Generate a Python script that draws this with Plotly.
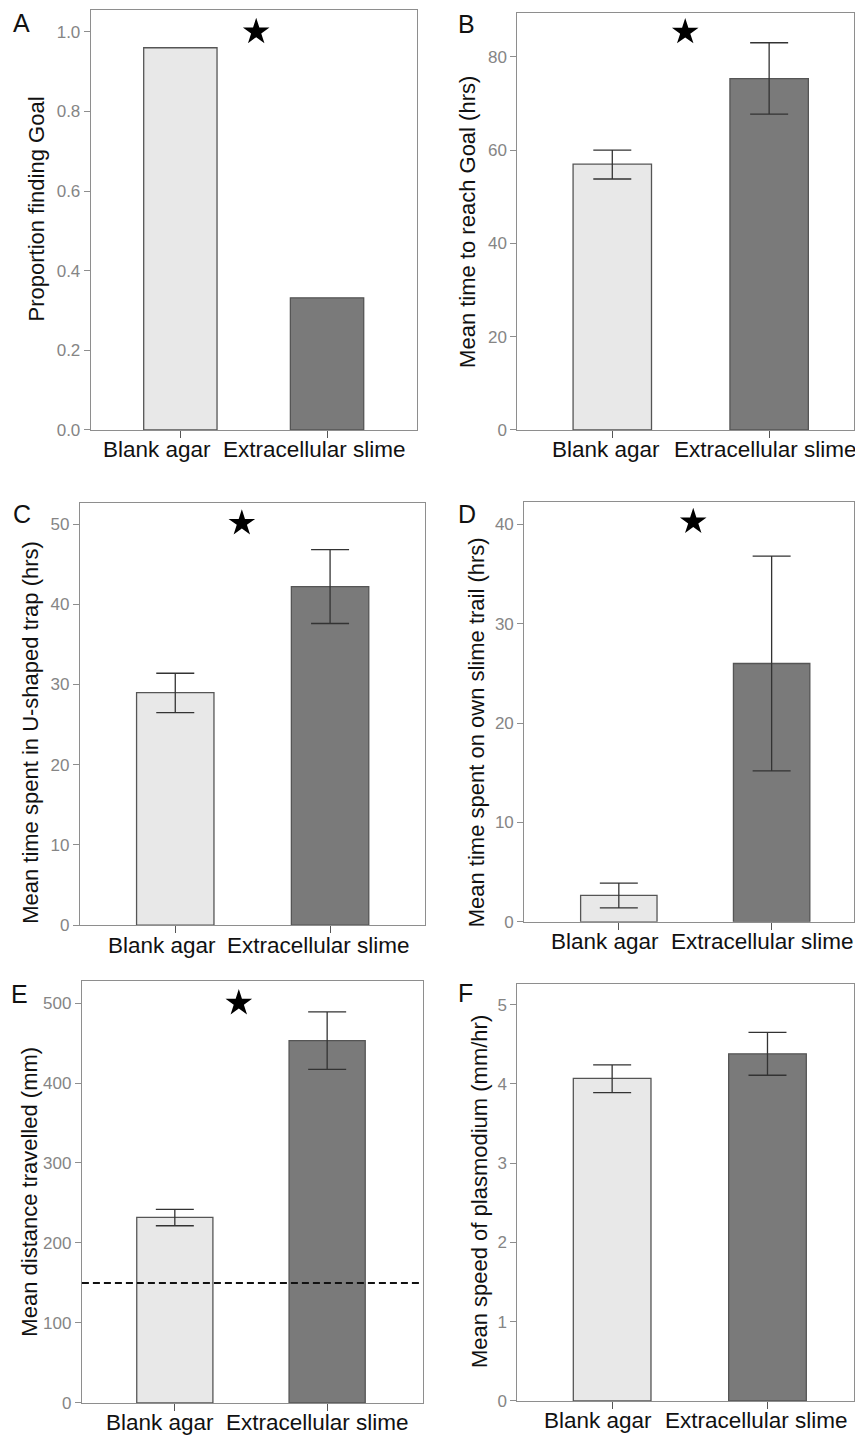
import plotly.graph_objects as go

W, H = 855, 1441

categories = ["Blank agar", "Extracellular slime"]

# Panel A: proportion finding goal
a_vals = [0.96, 0.332]
# Panel B: mean time to reach goal (hrs)
b_vals = [57.0, 75.3]
b_hi = [60.0, 83.0]
b_lo = [53.8, 67.7]
# Panel C: mean time spent in U-shaped trap (hrs)
c_vals = [29.0, 42.2]
c_hi = [31.4, 46.8]
c_lo = [26.5, 37.6]
# Panel D: mean time on own slime trail (hrs)
d_vals = [2.66, 26.0]
d_hi = [3.9, 36.8]
d_lo = [1.4, 15.2]
# Panel E: mean distance travelled (mm)
e_vals = [232.0, 453.0]
e_hi = [242.0, 489.0]
e_lo = [221.5, 417.0]
e_reference = 150
# Panel F: mean speed of plasmodium (mm/hr)
f_vals = [4.07, 4.38]
f_hi = [4.24, 4.65]
f_lo = [3.89, 4.11]

# significance stars (x between categories, y value)
star_pos = {"A": (0.517, 1.0), "B": (0.465, 85.3), "C": (0.43, 50.1),
            "D": (0.487, 40.26), "E": (0.42, 500.0)}

a_ticks = [0, 0.2, 0.4, 0.6, 0.8, 1.0]
b_ticks = [0, 20, 40, 60, 80]
c_ticks = [0, 10, 20, 30, 40, 50]
d_ticks = [0, 10, 20, 30, 40]
e_ticks = [0, 100, 200, 300, 400, 500]
f_ticks = [0, 1, 2, 3, 4, 5]

titles = {
    "A": "Proportion finding Goal",
    "B": "Mean time to reach Goal (hrs)",
    "C": "Mean time spent in U-shaped trap (hrs)",
    "D": "Mean time spent on own slime trail (hrs)",
    "E": "Mean distance travelled (mm)",
    "F": "Mean speed of plasmodium (mm/hr)",
}

FILL = ["#e8e8e8", "#7a7a7a"]
EDGE = "#555555"
AXC = "#8e8e8e"
FONT = "Liberation Sans, Arial, sans-serif"

# layout geometry (pixels): plot box left, right, top, bottom; y max; x range
panels = [
    dict(k="A", vals=a_vals, hi=None, lo=None, ticks=a_ticks, fmt=".1f",
         box=(91, 417, 10, 433), ymax=1.055, xr=(-0.61, 1.61),
         ytitle=(37, 210), letter=(22, 23), lab_shift=(-23, -13)),
    dict(k="B", vals=b_vals, hi=b_hi, lo=b_lo, ticks=b_ticks, fmt="d",
         box=(518, 855, 13, 433), ymax=89.4, xr=(-0.605, 1.541),
         ytitle=(468, 223), letter=(467, 24), lab_shift=(-6, -4)),
    dict(k="C", vals=c_vals, hi=c_hi, lo=c_lo, ticks=c_ticks, fmt="d",
         box=(80, 425, 507, 931.7), ymax=52.56, xr=(-0.616, 1.61),
         ytitle=(31, 737), letter=(22, 518), lab_shift=(-13, -12)),
    dict(k="D", vals=d_vals, hi=d_hi, lo=d_lo, ticks=d_ticks, fmt="d",
         box=(525, 855, 506, 928.3), ymax=42.2, xr=(-0.618, 1.539),
         ytitle=(477, 737), letter=(468, 518), lab_shift=(-14, -9)),
    dict(k="E", vals=e_vals, hi=e_hi, lo=e_lo, ticks=e_ticks, fmt="d",
         box=(82, 423, 988, 1412.7), ymax=527.4, xr=(-0.61, 1.626),
         ytitle=(30, 1200), letter=(20, 1001), lab_shift=(-15, -10)),
    dict(k="F", vals=f_vals, hi=f_hi, lo=f_lo, ticks=f_ticks, fmt="d",
         box=(518, 855, 991, 1410.7), ymax=5.26, xr=(-0.61, 1.557),
         ytitle=(480, 1200), letter=(466, 1000), lab_shift=(-14, -11)),
]

fig = go.Figure()
annotations = []
shapes = []
layout = {}

for i, p in enumerate(panels, start=1):
    xa = "x" if i == 1 else f"x{i}"
    ya = "y" if i == 1 else f"y{i}"
    l, r, t, b = p["box"]
    xpos = list(range(len(categories)))

    err = None
    if p["hi"] is not None:
        err = dict(type="data",
                   array=[h - v for h, v in zip(p["hi"], p["vals"])],
                   arrayminus=[v - lo for lo, v in zip(p["lo"], p["vals"])],
                   color="#333333", thickness=1.3, width=19, visible=True)
    fig.add_trace(go.Bar(x=xpos, y=p["vals"], width=0.5,
                         marker=dict(color=FILL, line=dict(color=EDGE, width=1.3)),
                         error_y=err, xaxis=xa, yaxis=ya, showlegend=False,
                         hoverinfo="skip"))
    if p["k"] in star_pos:
        sx, sy = star_pos[p["k"]]
        fig.add_trace(go.Scatter(x=[sx], y=[sy], mode="markers",
                                 marker=dict(symbol="star", size=20, color="black",
                                             line=dict(width=0)),
                                 xaxis=xa, yaxis=ya, showlegend=False,
                                 hoverinfo="skip"))

    xkey = "xaxis" if i == 1 else f"xaxis{i}"
    ykey = "yaxis" if i == 1 else f"yaxis{i}"
    layout[xkey] = dict(domain=[l / W, r / W], anchor=ya, range=list(p["xr"]),
                        tickvals=xpos, showticklabels=False, ticks="outside",
                        ticklen=7, tickcolor="#555555", tickwidth=1.2,
                        showline=True, mirror=True, linecolor=AXC, linewidth=1.3,
                        showgrid=False, zeroline=False, fixedrange=True)
    layout[ykey] = dict(domain=[1 - b / H, 1 - t / H], anchor=xa,
                        range=[0, p["ymax"]], tickvals=p["ticks"],
                        tickformat=p["fmt"], ticks="outside", ticklen=6,
                        tickcolor=AXC, tickwidth=1.2,
                        tickfont=dict(size=17, color="#858585", family=FONT),
                        showline=True, mirror=True, linecolor=AXC, linewidth=1.3,
                        showgrid=False, zeroline=False, fixedrange=True)

    # category labels
    for j, cat in enumerate(categories):
        annotations.append(dict(x=xpos[j], y=0, xref=xa, yref=f"{ya} domain",
                                text=cat, showarrow=False, xanchor="center",
                                yanchor="middle", yshift=-20,
                                xshift=p["lab_shift"][j],
                                font=dict(size=22.5, color="#111111", family=FONT)))
    # y title
    tx, ty = p["ytitle"]
    annotations.append(dict(x=tx / W, y=1 - ty / H, xref="paper", yref="paper",
                            text=titles[p["k"]], textangle=-90, showarrow=False,
                            xanchor="center", yanchor="middle",
                            font=dict(size=22, color="#111111", family=FONT)))
    # panel letter
    lx, ly = p["letter"]
    annotations.append(dict(x=lx / W, y=1 - ly / H, xref="paper", yref="paper",
                            text=p["k"], showarrow=False, xanchor="center",
                            yanchor="middle",
                            font=dict(size=25, color="#111111", family=FONT)))
    if p["k"] == "E":
        shapes.append(dict(type="line", xref=f"{xa} domain", yref=ya,
                           x0=0, x1=1, y0=e_reference, y1=e_reference,
                           line=dict(color="#111111", width=2, dash="7px,4px")))

fig.update_layout(**layout)
fig.update_layout(width=W, height=H, margin=dict(l=0, r=0, t=0, b=0),
                  paper_bgcolor="white", plot_bgcolor="white",
                  annotations=annotations, shapes=shapes, barmode="overlay",
                  font=dict(family=FONT), showlegend=False)

fig.write_html("out.html", config={"displayModeBar": False},
               post_script="document.body.style.margin='0px';"
                           "document.body.style.overflow='hidden';")
